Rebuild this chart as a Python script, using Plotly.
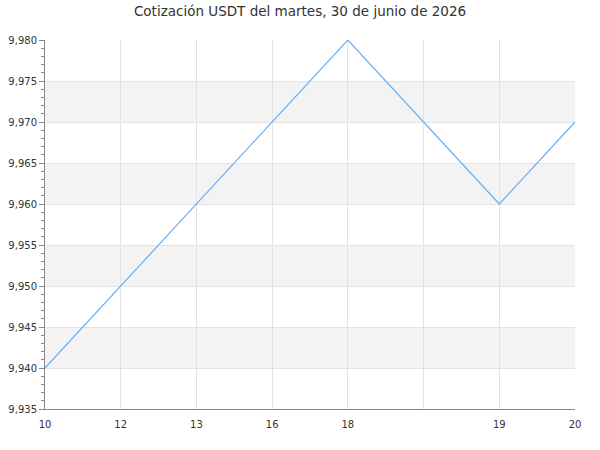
import plotly.graph_objects as go

# hora del día (una marca sin etiqueta) y cotización USDT
horas = ["10", "12", "13", "16", "18", "", "19", "20"]
cotizacion = [9.940, 9.950, 9.960, 9.970, 9.980, 9.970, 9.960, 9.970]
y_ticks = [9.935, 9.940, 9.945, 9.950, 9.955, 9.960, 9.965, 9.970, 9.975, 9.980]

pos = list(range(len(horas)))

fig = go.Figure()
fig.add_trace(go.Scatter(x=pos, y=cotizacion, mode="lines",
                         line=dict(color="#6cb0f2", width=1.2), hoverinfo="y"))

# franjas grises alternas
shapes = []
for i in range(1, len(y_ticks) - 1, 2):
    shapes.append(dict(type="rect", xref="paper", yref="y", x0=0, x1=1,
                       y0=y_ticks[i], y1=y_ticks[i + 1], fillcolor="#f3f3f3",
                       line=dict(width=0), layer="below"))

fig.update_layout(
    width=600, height=450,
    title=dict(text="Cotización USDT del martes, 30 de junio de 2026",
               x=0.5, xanchor="center", yref="container", y=1 - 11 / 450, yanchor="middle",
               font=dict(size=13.5, color="#333333")),
    font=dict(family="DejaVu Sans", size=10, color="#333333"),
    paper_bgcolor="white", plot_bgcolor="white",
    margin=dict(l=45, r=25, t=40, b=41, autoexpand=False),
    separators=",.",
    showlegend=False,
    shapes=shapes,
)
fig.update_xaxes(range=[0, len(horas) - 1], tickvals=pos, ticktext=horas,
                 showgrid=True, gridcolor="#e3e3e3", gridwidth=1,
                 showline=True, linecolor="#888888", linewidth=1,
                 ticks="", ticklabelstandoff=6, automargin=False,
                 zeroline=False, fixedrange=True)
fig.update_yaxes(range=[y_ticks[0], y_ticks[-1]], tickvals=y_ticks, tickformat=".3f",
                 showgrid=True, gridcolor="#e3e3e3", gridwidth=1,
                 showline=True, linecolor="#888888", linewidth=1,
                 ticks="outside", ticklen=5, tickcolor="#888888", automargin=False,
                 minor=dict(dtick=0.001, ticks="outside", ticklen=3, tickcolor="#888888", showgrid=False),
                 zeroline=False, fixedrange=True)

fig.write_html("out.html", config={"displayModeBar": False},
               post_script="document.body.style.margin='0';")
